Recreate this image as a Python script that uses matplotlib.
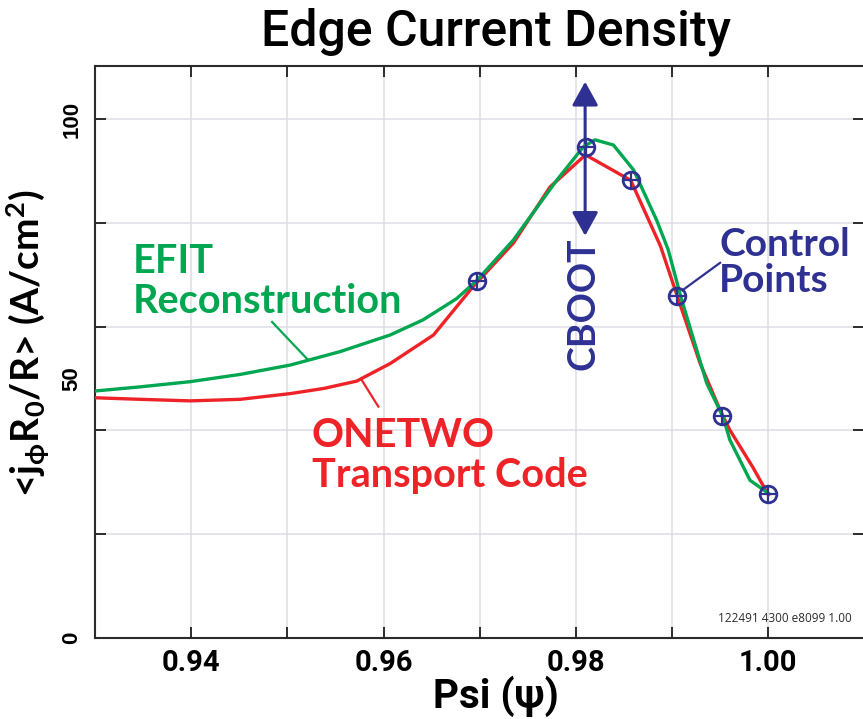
import matplotlib
matplotlib.use("Agg")
import matplotlib.pyplot as plt
from matplotlib import font_manager

# Flux-surface averaged edge current density vs normalized poloidal flux
psi_efit = [0.9300, 0.9347, 0.9399, 0.9451, 0.9503, 0.9555, 0.9607, 0.9641, 0.9676,
            0.9697, 0.9735, 0.9780, 0.9808, 0.9820, 0.9839, 0.9860, 0.9884, 0.9896,
            0.9909, 0.9936, 0.9953, 0.9960, 0.9981, 1.0000]
j_efit = [47.6, 48.4, 49.4, 50.8, 52.6, 55.2, 58.4, 61.3, 65.4,
          68.9, 76.7, 88.2, 94.7, 96.0, 95.0, 90.2, 80.5, 74.8,
          65.8, 49.1, 42.6, 38.2, 30.4, 27.9]

psi_onetwo = [0.9300, 0.9347, 0.9399, 0.9451, 0.9503, 0.9538, 0.9572, 0.9607, 0.9652,
              0.9693, 0.9735, 0.9773, 0.9810, 0.9857, 0.9888, 0.9905, 0.9929, 0.9950,
              0.9960, 0.9984, 1.0000]
j_onetwo = [46.3, 46.0, 45.7, 46.0, 47.1, 48.1, 49.5, 52.9, 58.4,
            67.7, 76.1, 86.9, 93.1, 88.2, 75.5, 66.1, 53.0, 43.9,
            40.1, 32.9, 27.6]

psi_ctrl = [0.9697, 0.9811, 0.9857, 0.9905, 0.9952, 1.0000]
j_ctrl = [68.8, 94.6, 88.2, 65.9, 42.8, 27.7]

x_grid = [0.94, 0.95, 0.96, 0.97, 0.98, 0.99, 1.00]
x_labels = ["0.94", "", "0.96", "", "0.98", "", "1.00"]
y_grid = [0, 20, 40, 60, 80, 100]
y_ticks = [0, 50, 100]
y_labels = ["0", "50", "100"]

GREEN = "#00a650"
RED = "#ed2327"
BLUE = "#2e3192"
GRID = "#dcdce4"
INK = "#2b2b2b"

names = {f.name for f in font_manager.fontManager.ttflist}
ROUND = "Lato" if "Lato" in names else "DejaVu Sans"
NARROW = "Roboto" if "Roboto" in names else "Liberation Sans"

plt.rcParams.update({
    "font.family": [ROUND, "DejaVu Sans"],
    "mathtext.fontset": "custom",
    "mathtext.rm": f"{ROUND}:bold",
    "mathtext.it": f"{ROUND}:bold",
    "mathtext.bf": f"{ROUND}:bold",
})

fig = plt.figure(figsize=(8.63, 7.19), dpi=100)
ax = fig.add_axes([0.110, 0.1126, 0.8917, 0.7954])

ax.plot(psi_onetwo, j_onetwo, color=RED, lw=2.4, solid_joinstyle="round", zorder=3)
ax.plot(psi_efit, j_efit, color=GREEN, lw=2.4, solid_joinstyle="round", zorder=4)
ax.plot(psi_ctrl, j_ctrl, ls="none", marker="o", ms=12, mfc="none", mec=BLUE, mew=2.0, zorder=6)
ax.plot(psi_ctrl, j_ctrl, ls="none", marker="+", ms=12, mec=BLUE, mew=1.6, zorder=6)

ax.set_xlim(0.93, 1.01)
ax.set_ylim(0, 110.2)

# grid-aligned tick marks; labels only on selected values
ax.set_xticks(x_grid, labels=x_labels)
ax.set_yticks(y_grid, labels=[""] * len(y_grid))
ax.yaxis.remove_overlapping_locs = False
ax.set_yticks(y_ticks, labels=y_labels, minor=True)
ax.grid(True, which="major", color=GRID, lw=1.1, zorder=0)
ax.tick_params(which="major", direction="in", top=True, right=True, length=8, width=1.4, color=INK)
ax.tick_params(axis="y", which="minor", length=0, pad=9)
ax.tick_params(axis="x", which="major", pad=8)
for t in ax.get_xticklabels():
    t.set_fontfamily([NARROW, "DejaVu Sans"])
    t.set_fontweight("bold")
    t.set_fontsize(21)
for t in ax.get_yticklabels(minor=True):
    t.set_fontfamily(["Liberation Sans", "DejaVu Sans"])
    t.set_fontweight("bold")
    t.set_fontsize(16)
    t.set_rotation(90)
    t.set_va("center")
for s in ax.spines.values():
    s.set_linewidth(1.5)
    s.set_color(INK)

ax.set_ylabel(r"<j$_{\phi}$R$_0$/R> (A/cm$^2$)", fontsize=28, fontweight="bold")
ax.yaxis.set_label_coords(-0.056, 0.516)
ax.set_xlabel("Psi (ψ)", fontsize=29, fontweight="bold", family=[NARROW, "DejaVu Sans"])
ax.xaxis.set_label_coords(0.521, -0.066)

fig.text(0.5747, 0.9555, "Edge Current Density", ha="center", va="center",
         fontsize=36, fontweight="medium", family=[NARROW, "DejaVu Sans"])

# annotations
ax.text(0.93397, 76.1, "EFIT\nReconstruction", color=GREEN, fontsize=28.5, fontweight="bold",
        ha="left", va="top", linespacing=1.1)
ax.plot([0.94842, 0.95205], [60.9, 53.8], color=GREEN, lw=1.6)

ax.text(0.95255, 42.6, "ONETWO\nTransport Code", color=RED, fontsize=28.5, fontweight="bold",
        ha="left", va="top", linespacing=1.1)
ax.plot([0.95774, 0.95946], [49.7, 44.6], color=RED, lw=1.6)

ax.text(0.99489, 79.2, "Control\nPoints", color=BLUE, fontsize=28, fontweight="bold",
        ha="left", va="top", linespacing=1.05)
ax.plot([0.99107, 0.99499], [67.0, 72.3], color=BLUE, lw=1.6)

ax.annotate("", xy=(0.98096, 107.2), xytext=(0.98096, 77.5),
            arrowprops=dict(arrowstyle="<|-|>,head_length=1.45,head_width=0.8",
                            mutation_scale=10, color=BLUE, lw=2.2, shrinkA=0, shrinkB=0))
ax.text(0.98075, 64.4, "CBOOT", color=BLUE, fontsize=27, fontweight="bold",
        rotation=90, ha="center", va="center")

ax.text(1.00871, 3.85, "122491 4300 e8099 1.00", fontsize=8.5, color=INK,
        family=["Open Sans", "DejaVu Sans"], ha="right", va="center")

fig.savefig("out.png", dpi=100)
